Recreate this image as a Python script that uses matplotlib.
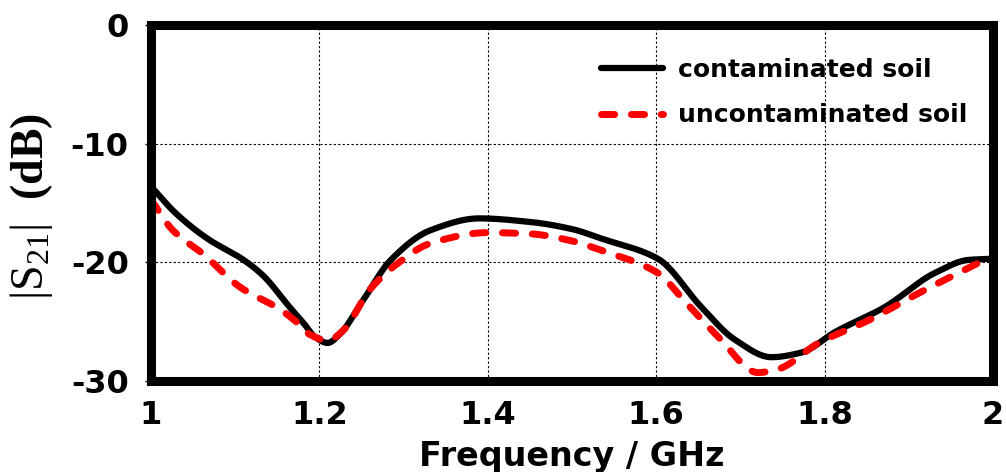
import numpy as np
import matplotlib
matplotlib.use("Agg")
import matplotlib.pyplot as plt

plt.rcParams["mathtext.fontset"] = "custom"
plt.rcParams["mathtext.rm"] = "Liberation Serif"
plt.rcParams["mathtext.it"] = "Liberation Serif:italic"
plt.rcParams["mathtext.bf"] = "Liberation Serif:bold"

freq_c = [1.0, 1.03, 1.067, 1.11, 1.133, 1.165, 1.181, 1.195, 1.21, 1.225, 1.252, 1.285, 1.332, 1.39, 1.45, 1.5, 1.535, 1.602, 1.654, 1.693, 1.737, 1.773, 1.812, 1.871, 1.931, 1.971, 2.0]
s21_c = [-13.6, -15.9, -18.0, -19.8, -21.1, -23.8, -25.1, -26.3, -26.8, -26.0, -23.2, -19.8, -17.3, -16.3, -16.6, -17.2, -18.0, -19.7, -23.8, -26.5, -28.0, -27.6, -25.9, -23.8, -20.9, -19.8, -19.7]

freq_u = [1.0, 1.026, 1.062, 1.106, 1.154, 1.174, 1.189, 1.21, 1.229, 1.26, 1.293, 1.332, 1.4, 1.45, 1.5, 1.535, 1.602, 1.633, 1.674, 1.721, 1.745, 1.793, 1.852, 1.912, 1.99]
s21_u = [-14.7, -17.3, -19.3, -22.1, -24.0, -25.1, -26.1, -26.6, -25.7, -22.3, -20.1, -18.4, -17.5, -17.6, -18.2, -19.0, -20.9, -23.2, -26.3, -29.3, -29.0, -26.8, -24.9, -22.6, -19.8]

xticks = [1, 1.2, 1.4, 1.6, 1.8, 2]
xticklabels = ["1", "1.2", "1.4", "1.6", "1.8", "2"]
yticks = [0, -10, -20, -30]
yticklabels = ["0", "-10", "-20", "-30"]

def smooth(x, y, n=400):
    x = np.asarray(x); y = np.asarray(y)
    h = np.diff(x); d = np.diff(y) / h
    m = np.zeros_like(y)
    for i in range(1, len(y) - 1):
        if d[i-1] * d[i] > 0:
            w1 = 2*h[i] + h[i-1]; w2 = h[i] + 2*h[i-1]
            m[i] = (w1 + w2) / (w1/d[i-1] + w2/d[i])
    m[0] = d[0]; m[-1] = d[-1]
    xs = np.linspace(x[0], x[-1], n)
    idx = np.clip(np.searchsorted(x, xs) - 1, 0, len(x) - 2)
    t = (xs - x[idx]) / h[idx]
    h00 = 2*t**3 - 3*t**2 + 1; h10 = t**3 - 2*t**2 + t
    h01 = -2*t**3 + 3*t**2; h11 = t**3 - t**2
    ys = h00*y[idx] + h10*h[idx]*m[idx] + h01*y[idx+1] + h11*h[idx]*m[idx+1]
    return xs, ys

fig = plt.figure(figsize=(10.06, 4.72), dpi=100)
ax = fig.add_axes([0.150, 0.193, 0.837, 0.754])

xc, yc = smooth(freq_c, s21_c)
xu, yu = smooth(freq_u, s21_u)
ax.plot(xc, yc, color="black", lw=4.5, label="contaminated soil", solid_capstyle="round")
ax.plot(xu, yu, color="red", lw=5, ls=(0, (1.9, 2.4)), label="uncontaminated soil", dash_capstyle="round")

ax.set_xlim(1, 2)
ax.set_ylim(-30, 0)
ax.set_xticks(xticks)
ax.set_xticklabels(xticklabels, fontsize=23, fontweight="bold")
ax.set_yticks(yticks)
ax.set_yticklabels(yticklabels, fontsize=23, fontweight="bold")
ax.grid(True, color="black", ls=(0, (2, 2)), lw=0.8)
for sp in ax.spines.values():
    sp.set_linewidth(6.5)
ax.tick_params(axis="y", length=4, width=1, pad=12)
ax.tick_params(axis="x", length=0, pad=14)

ax.set_xlabel("Frequency / GHz", fontsize=24, fontweight="bold")
ax.xaxis.set_label_coords(0.5, -0.165)
ax.xaxis.label.set_va("top")
ax.set_ylabel(r"|S$_{21}$|  $\mathbf{(dB)}$", fontsize=33, family="Liberation Serif")
ax.yaxis.set_label_coords(-0.114, 0.49)

leg = ax.legend(loc="upper right", bbox_to_anchor=(0.982, 0.935), frameon=False,
                prop={"weight": "bold", "size": 18},
                handlelength=2.5, handletextpad=0.6, borderaxespad=0.0, labelspacing=0.85)

fig.savefig("out.png", dpi=100)
